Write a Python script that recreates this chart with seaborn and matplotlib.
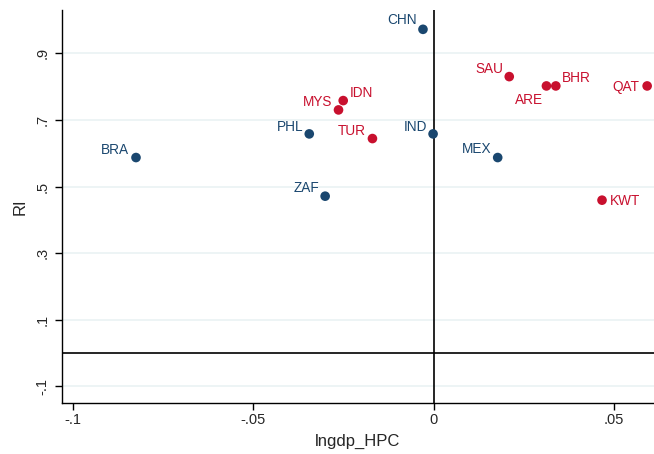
import matplotlib
matplotlib.use("Agg")
import matplotlib.pyplot as plt
import seaborn as sns
import pandas as pd

countries = ["CHN", "SAU", "ARE", "BHR", "QAT", "MYS", "IDN", "PHL", "TUR",
             "IND", "BRA", "MEX", "ZAF", "KWT"]
lngdp_hpc = [-0.0030, 0.0209, 0.0312, 0.0338, 0.0591, -0.0264, -0.0251, -0.0345,
             -0.0170, -0.0002, -0.0825, 0.0177, -0.0301, 0.0466]
ri = [0.972, 0.830, 0.802, 0.802, 0.802, 0.730, 0.758, 0.658, 0.644,
      0.658, 0.587, 0.587, 0.471, 0.459]
group = ["B", "R", "R", "R", "R", "R", "R", "B", "R", "B", "B", "B", "B", "R"]
x_ticks = [-0.1, -0.05, 0, 0.05]
x_ticklabels = ["-.1", "-.05", "0", ".05"]
y_ticks = [-0.1, 0.1, 0.3, 0.5, 0.7, 0.9]
y_ticklabels = ["-.1", ".1", ".3", ".5", ".7", ".9"]

# label placement: (dx px, dy px, ha)
label_pos = {
    "CHN": (-6, 9, "right"), "SAU": (-6, 8, "right"), "ARE": (-3, -14, "right"),
    "BHR": (6, 8, "left"), "QAT": (-8, -1, "right"), "MYS": (-6, 8, "right"),
    "IDN": (7, 8, "left"), "PHL": (-6, 7, "right"), "TUR": (-7, 8, "right"),
    "IND": (-6, 7, "right"), "BRA": (-7, 8, "right"), "MEX": (-6, 9, "right"),
    "ZAF": (-6, 8, "right"), "KWT": (8, -1, "left"),
}

BLUE = "#1a476f"
RED = "#c8102e"
palette = {"B": BLUE, "R": RED}

sns.set_style("white")
plt.rcParams["font.family"] = ["Liberation Sans", "DejaVu Sans"]

df = pd.DataFrame({"country": countries, "x": lngdp_hpc, "y": ri, "g": group})

fig = plt.figure(figsize=(6.54, 4.54), dpi=100)
ax = fig.add_axes([62 / 654, 51 / 454, 592 / 654, 393 / 454])

for yt in y_ticks:
    ax.axhline(yt, color="#eaf2f3", lw=1.2, zorder=0)
ax.axvline(0, color="black", lw=1.2, zorder=1)
ax.axhline(0, color="black", lw=1.2, zorder=1)

sns.scatterplot(data=df, x="x", y="y", hue="g", palette=palette, s=48,
                edgecolor="none", legend=False, ax=ax, zorder=3)

px2pt = 72 / 100
for c, xv, yv, g in zip(countries, lngdp_hpc, ri, group):
    dx, dy, ha = label_pos[c]
    ax.annotate(c, (xv, yv), xytext=(dx * px2pt, dy * px2pt),
                textcoords="offset points", ha=ha, va="center",
                fontsize=9.8, color=palette[g])

ax.set_xlim(-0.103, 0.061)
ax.set_ylim(-0.15, 1.03)
ax.set_xticks(x_ticks)
ax.set_xticklabels(x_ticklabels, fontsize=10.5)
ax.set_yticks(y_ticks)
ax.set_yticklabels(y_ticklabels, fontsize=10.5, rotation=90, va="center")
ax.tick_params(axis="both", direction="out", length=5, width=1, color="black",
               left=True, bottom=True)
ax.tick_params(axis="x", pad=2)
ax.tick_params(axis="y", pad=4)
for s in ["top", "right"]:
    ax.spines[s].set_visible(False)
for s in ["left", "bottom"]:
    ax.spines[s].set_color("black")
    ax.spines[s].set_linewidth(1)

ax.set_xlabel("lngdp_HPC", fontsize=12, labelpad=5)
ax.set_ylabel("RI", fontsize=12, labelpad=6)

fig.savefig("out.png", dpi=100)
